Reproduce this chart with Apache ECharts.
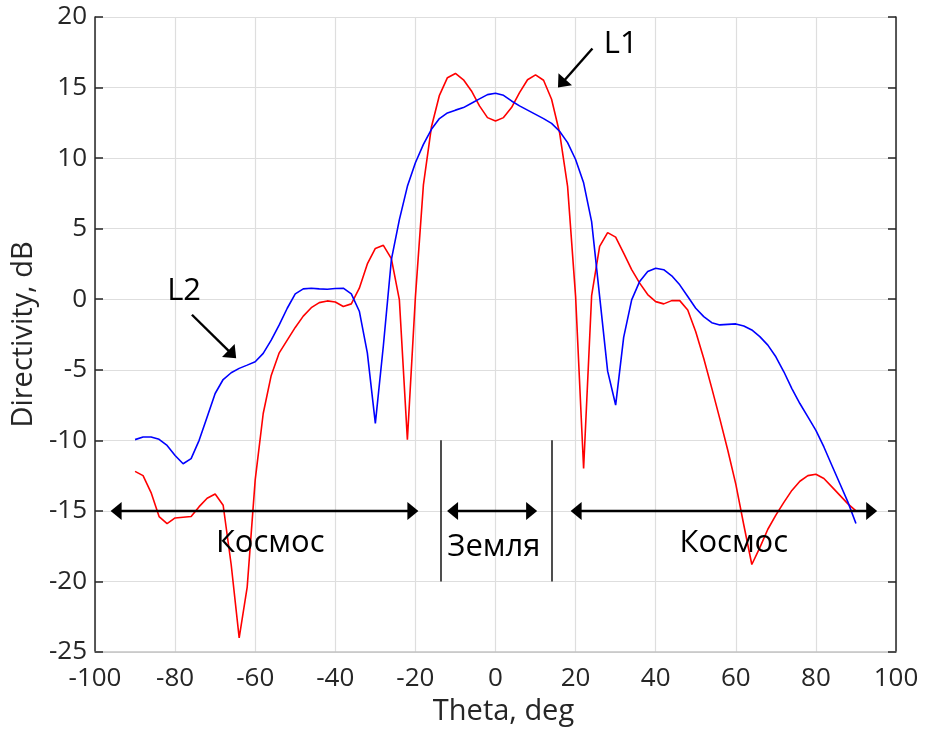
<!DOCTYPE html>
<html>
<head>
<meta charset="utf-8">
<script src="https://cdn.jsdelivr.net/npm/echarts@6/dist/echarts.min.js"></script>
<style>html,body{margin:0;padding:0;background:#fff}#c{width:927px;height:733px}</style>
</head>
<body>
<div id="c"></div>
<script>
// Theta sample points: -90..90 step 2 deg
const theta = [-90,-88,-86,-84,-82,-80,-78,-76,-74,-72,-70,-68,-66,-64,-62,-60,-58,-56,-54,-52,-50,-48,-46,-44,-42,-40,-38,-36,-34,-32,-30,-28,-26,-24,-22,-20,-18,-16,-14,-12,-10,-8,-6,-4,-2,0,2,4,6,8,10,12,14,16,18,20,22,24,26,28,30,32,34,36,38,40,42,44,46,48,50,52,54,56,58,60,62,64,66,68,70,72,74,76,78,80,82,84,86,88,90];
// L1 (red)
const l1 = [-12.2,-12.5,-13.7,-15.4,-15.9,-15.5,-15.45,-15.4,-14.7,-14.1,-13.8,-14.6,-18.8,-24.0,-20.4,-12.8,-8.1,-5.4,-3.8,-2.9,-2.0,-1.2,-0.6,-0.24,-0.12,-0.2,-0.52,-0.33,0.78,2.5,3.6,3.82,2.88,-0.05,-9.95,0.15,8.1,12.2,14.45,15.7,16.0,15.55,14.76,13.7,12.87,12.63,12.87,13.58,14.64,15.55,15.9,15.52,14.17,11.8,8.0,0.2,-12.0,0.25,3.74,4.72,4.4,3.27,2.1,1.14,0.33,-0.17,-0.33,-0.1,-0.1,-0.76,-2.3,-4.2,-6.3,-8.46,-10.7,-13.1,-16.0,-18.8,-17.6,-16.3,-15.3,-14.4,-13.55,-12.9,-12.5,-12.4,-12.7,-13.3,-13.9,-14.5,-15.0];
// L2 (blue)
const l2 = [-9.95,-9.76,-9.76,-9.93,-10.36,-11.07,-11.66,-11.3,-10.0,-8.34,-6.68,-5.69,-5.21,-4.9,-4.67,-4.43,-3.84,-2.9,-1.82,-0.64,0.38,0.73,0.78,0.73,0.71,0.76,0.78,0.38,-0.85,-3.8,-8.8,-3.3,2.8,5.64,8.0,9.67,10.97,12.04,12.8,13.2,13.4,13.58,13.89,14.2,14.5,14.6,14.45,14.05,13.7,13.4,13.1,12.8,12.46,11.9,11.1,9.9,8.25,5.5,0.2,-5.1,-7.5,-2.7,-0.05,1.26,1.97,2.2,2.09,1.66,1.02,0.19,-0.64,-1.23,-1.66,-1.82,-1.78,-1.75,-1.9,-2.18,-2.65,-3.25,-4.08,-5.14,-6.33,-7.39,-8.34,-9.29,-10.47,-11.78,-13.08,-14.38,-15.9];
// Axis ticks
const xTicks = {min:-100, max:100, interval:20};
const yTicks = {min:-25, max:20, interval:5};
// Annotations (data coordinates)
const regionArrows = [[-96.1,-19.25],[-12.1,10.4],[18.75,95.3]];
const arrowY = -15;
const dividers = [-13.75, 14];
const dividerRange = [-10, -20];
const regionLabels = [
  {text:'Космос', x:-56.25, y:-17.3},
  {text:'Земля', x:-0.4, y:-17.6},
  {text:'Космос', x:59.5, y:-17.3}
];
const curveLabels = [
  {text:'L1', x:31.25, y:18.1, from:[24.2,17.77], to:[15.6,15.0]},
  {text:'L2', x:-77.75, y:0.57, from:[-75.8,-1.1], to:[-64.75,-4.18]}
];

const FONT = 'Open Sans';
const HEAD = [18, 11]; // arrowhead width, length (px)
const chart = echarts.init(document.getElementById('c'), null, {renderer:'canvas'});

chart.setOption({
  animation:false,
  grid:{left:95, right:31, top:17, bottom:81, containLabel:false},
  xAxis:{
    type:'value', min:xTicks.min, max:xTicks.max, interval:xTicks.interval,
    name:'Theta, deg', nameLocation:'middle', nameGap:44,
    nameTextStyle:{fontFamily:FONT, fontSize:29, color:'#262626', padding:[0,0,0,16]},
    axisLine:{show:true, onZero:false, lineStyle:{color:'#c4c4c4', width:1.5}},
    axisTick:{show:false},
    axisLabel:{fontFamily:FONT, fontSize:26, color:'#262626', margin:14},
    splitLine:{show:true, lineStyle:{color:'#dedede', width:1.2}}
  },
  yAxis:[{
    type:'value', min:yTicks.min, max:yTicks.max, interval:yTicks.interval,
    name:'Directivity, dB', nameLocation:'middle', nameGap:48,
    nameTextStyle:{fontFamily:FONT, fontSize:29, color:'#262626'},
    axisLine:{show:true, onZero:false, lineStyle:{color:'#262626', width:1.5}},
    axisTick:{show:true, inside:true, length:8, lineStyle:{color:'#262626', width:1.5}},
    axisLabel:{fontFamily:FONT, fontSize:26, color:'#262626', margin:8},
    splitLine:{show:true, lineStyle:{color:'#dedede', width:1.2}}
  },{
    type:'value', position:'right', min:yTicks.min, max:yTicks.max, interval:yTicks.interval,
    axisLine:{show:true, onZero:false, lineStyle:{color:'#262626', width:1.5}},
    axisTick:{show:true, inside:true, length:8, lineStyle:{color:'#262626', width:1.5}},
    axisLabel:{show:false},
    splitLine:{show:false}
  }],
  series:[{
    name:'L1', type:'line', data:theta.map((t,i)=>[t,l1[i]]),
    showSymbol:false, symbol:'none', lineStyle:{color:'#ff0000', width:1.6}, z:2
  },{
    name:'L2', type:'line', data:theta.map((t,i)=>[t,l2[i]]),
    showSymbol:false, symbol:'none', lineStyle:{color:'#0000ff', width:1.6}, z:3
  }]
});

// pull an arrow tip back by half the head length so the triangle's tip lands on the point
function pullBack(from, to) {
  const a = chart.convertToPixel({gridIndex:0}, from);
  const b = chart.convertToPixel({gridIndex:0}, to);
  const dx = b[0]-a[0], dy = b[1]-a[1], L = Math.hypot(dx, dy);
  const off = HEAD[1]/2;
  return chart.convertFromPixel({gridIndex:0}, [b[0]-dx/L*off, b[1]-dy/L*off]);
}

const markData = [];
regionArrows.forEach(a => {
  const p1 = [a[0], arrowY], p2 = [a[1], arrowY];
  markData.push([{coord:pullBack(p2, p1), symbol:'triangle'},{coord:pullBack(p1, p2), symbol:'triangle'}]);
});
curveLabels.forEach(c => {
  markData.push([{coord:c.from, symbol:'none'},{coord:pullBack(c.from, c.to), symbol:'triangle'}]);
});
dividers.forEach(d => {
  markData.push([{coord:[d,dividerRange[0]], symbol:'none', lineStyle:{width:1.6,color:'#222'}},{coord:[d,dividerRange[1]], symbol:'none'}]);
});

const g = [];
regionLabels.concat(curveLabels).forEach(l => {
  const p = chart.convertToPixel({gridIndex:0}, [l.x, l.y]);
  g.push({type:'text', x:p[0], y:p[1], z:100, style:{text:l.text, fontFamily:FONT, fontSize:31, fill:'#000', align:'center', verticalAlign:'middle'}});
});

chart.setOption({
  series:[{
    markLine:{
      silent:true, symbolSize:HEAD, animation:false,
      label:{show:false},
      lineStyle:{color:'#000', width:2.4, type:'solid'},
      itemStyle:{color:'#000'},
      emphasis:{disabled:true},
      data:markData
    }
  }],
  graphic:g
});
</script>
</body>
</html>
